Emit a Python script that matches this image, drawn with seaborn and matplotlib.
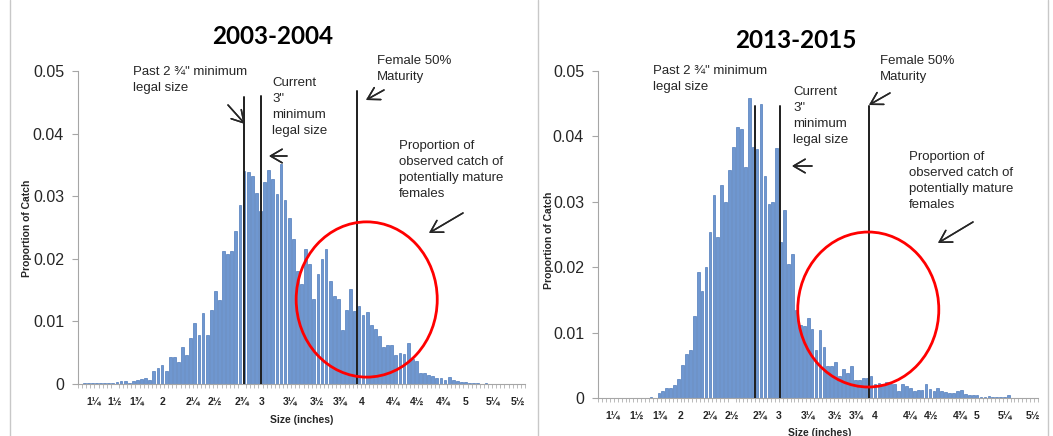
import matplotlib.pyplot as plt
import numpy as np
import pandas as pd
import seaborn as sns
from matplotlib.lines import Line2D
from matplotlib.patches import Ellipse

# proportion of catch per size bin (one bar per bin)
catch_2003 = [
    0.0000, 0.0001, 0.0001, 0.0001, 0.0001, 0.0001, 0.0002, 0.0001, 0.0002, 0.0003,
    0.0004, 0.0004, 0.0002, 0.0005, 0.0007, 0.0008, 0.0009, 0.0007,
    0.0020, 0.0025, 0.0030, 0.0020, 0.0043, 0.0043, 0.0035, 0.0059, 0.0047, 0.0074,
    0.0098, 0.0079, 0.0113, 0.0079, 0.0119, 0.0148, 0.0134, 0.0212,
    0.0208, 0.0213, 0.0245, 0.0286,
    0.0340, 0.0338, 0.0333, 0.0305, 0.0276, 0.0323, 0.0342, 0.0327, 0.0304, 0.0351,
    0.0294, 0.0265, 0.0231, 0.0180, 0.0159, 0.0216, 0.0192, 0.0135, 0.0176, 0.0199,
    0.0215, 0.0164, 0.0140, 0.0135, 0.0087, 0.0118, 0.0151, 0.0117, 0.0124, 0.0111,
    0.0115, 0.0094,
    0.0088, 0.0076, 0.0059, 0.0062, 0.0063, 0.0046, 0.0050, 0.0048, 0.0065, 0.0040,
    0.0036, 0.0017, 0.0018, 0.0014, 0.0012, 0.0010, 0.0009, 0.0006, 0.0011, 0.0006,
    0.0004, 0.0003, 0.0003, 0.0001, 0.0002,
    0.0001, 0.0000, 0.0001, 0.0000, 0.0000, 0.0000, 0.0000, 0.0000, 0.0000, 0.0000,
    0.0000, 0.0000,
]
catch_2013 = [
    0.0000, 0.0000, 0.0000, 0.0000, 0.0000, 0.0000, 0.0000, 0.0000, 0.0000, 0.0000,
    0.0000, 0.0000, 0.0000, 0.0001, 0.0000,
    0.0007, 0.0010, 0.0016, 0.0016, 0.0020, 0.0029, 0.0050, 0.0068, 0.0074, 0.0126,
    0.0192, 0.0164, 0.0200, 0.0254, 0.0311, 0.0246, 0.0326, 0.0299, 0.0348, 0.0384,
    0.0414, 0.0411, 0.0353, 0.0459, 0.0384, 0.0380, 0.0449, 0.0339, 0.0296, 0.0299,
    0.0383, 0.0238, 0.0287, 0.0205,
    0.0220, 0.0134, 0.0112, 0.0110, 0.0123, 0.0105, 0.0073, 0.0104, 0.0078, 0.0049,
    0.0049, 0.0055, 0.0034, 0.0045, 0.0038, 0.0049, 0.0028, 0.0027, 0.0030, 0.0031,
    0.0034, 0.0021, 0.0023, 0.0021, 0.0025, 0.0022, 0.0022, 0.0011, 0.0021, 0.0018,
    0.0015, 0.0011, 0.0012, 0.0012, 0.0021, 0.0014, 0.0011, 0.0015, 0.0011, 0.0009,
    0.0007, 0.0008, 0.0011, 0.0012, 0.0006, 0.0005, 0.0004, 0.0004, 0.0002, 0.0002,
    0.0003, 0.0002, 0.0002, 0.0002, 0.0002, 0.0004,
    0.0000, 0.0000, 0.0000, 0.0000, 0.0000, 0.0000, 0.0000,
]

size_labels = ["1¼", "1½", "1¾", "2", "2¼", "2½", "2¾", "3", "3¼", "3½", "3¾",
               "4", "4¼", "4½", "4¾", "5", "5¼", "5½"]
# bin index where each size label sits
label_bins_2003 = [3.2, 8.5, 13.9, 20.2, 27.6, 32.9, 39.5, 44.4, 51.2, 57.8, 63.4,
                   68.8, 76.3, 82.2, 88.5, 93.9, 100.7, 106.8]
label_bins_2013 = [3.3, 9.3, 15.1, 20.4, 28.0, 33.5, 40.7, 45.4, 53.0, 59.8, 65.3,
                   70.0, 78.9, 84.4, 91.6, 95.8, 103.0, 110.3]

# reference lines: past 2 3/4", current 3", female 50% maturity (bin index, top)
ref_bins_2003 = [40.0, 44.1, 67.6]
ref_tops_2003 = [0.0459, 0.0460, 0.0468]
ref_bins_2013 = [39.5, 45.9, 68.5]
ref_tops_2013 = [0.0447, 0.0447, 0.0447]

W, H = 1053, 436
BAR = "#6f97d0"
EDGE = "#4473b6"
TXT = "#262626"

sns.set_style("ticks")
plt.rcParams["font.family"] = ["Liberation Sans", "DejaVu Sans"]

fig = plt.figure(figsize=(W / 100, H / 100), dpi=100)


def px_ax(x0, y_top, x1, y_bot):
    return fig.add_axes([x0 / W, (H - y_bot) / H, (x1 - x0) / W, (y_bot - y_top) / H])


def ftext(x, y, s, **kw):
    fig.text(x / W, (H - y) / H, s, **kw)


def farrow(x0, y0, x1, y1):
    fig.add_artist(plt.annotate(
        "", xy=(x1 / W, (H - y1) / H), xytext=(x0 / W, (H - y0) / H),
        xycoords="figure fraction", textcoords="figure fraction",
        arrowprops=dict(arrowstyle="->,head_length=0.6,head_width=0.35",
                        lw=1.1, color=TXT, mutation_scale=14,
                        shrinkA=0, shrinkB=0)))


def draw_panel(ax, values, label_bins, ref_bins, ref_tops, circle):
    df = pd.DataFrame({"bin": np.arange(len(values)), "prop": values})
    sns.barplot(data=df, x="bin", y="prop", ax=ax, color=BAR, saturation=1,
                width=0.68, edgecolor=EDGE, linewidth=0.45)
    n = len(values)
    ax.set_xlim(-0.5, n - 0.5)
    ax.set_ylim(0, 0.05)
    for xb, top in zip(ref_bins, ref_tops):
        ax.plot([xb, xb], [0, top], color="#1e1e1e", lw=1.4, zorder=5)
    ax.add_patch(Ellipse(circle[:2], circle[2], circle[3], fill=False,
                         ec="#ff0000", lw=2.0, zorder=6, clip_on=False))
    ax.set_yticks([0, 0.01, 0.02, 0.03, 0.04, 0.05])
    ax.set_yticklabels(["0", "0.01", "0.02", "0.03", "0.04", "0.05"])
    ax.tick_params(axis="y", labelsize=11.5, colors="#a6a6a6", labelcolor=TXT,
                   length=4, width=0.8, pad=6)
    ax.set_xticks(label_bins)
    ax.set_xticklabels(size_labels, fontsize=7.5, fontweight="bold", color=TXT)
    ax.tick_params(axis="x", length=0, pad=9)
    ax.set_xticks(np.arange(n + 1) - 0.5, minor=True)
    ax.tick_params(axis="x", which="minor", length=3, width=0.6, color="#b0b0b0")
    for side in ["top", "right"]:
        ax.spines[side].set_visible(False)
    for side in ["left", "bottom"]:
        ax.spines[side].set_color("#a6a6a6")
        ax.spines[side].set_linewidth(0.8)
    ax.set_xlabel("")
    ax.set_ylabel("")


ax1 = px_ax(78, 71, 525, 384)
draw_panel(ax1, catch_2003, label_bins_2003, ref_bins_2003, ref_tops_2003,
           (69.9, 0.0135, 34.4, 0.0248))
ax2 = px_ax(598, 71, 1038, 398)
draw_panel(ax2, catch_2013, label_bins_2013, ref_bins_2013, ref_tops_2013,
           (68.3, 0.01353, 35.9, 0.0237))

# panel frames
for xf in [10, 538, 1048]:
    fig.add_artist(Line2D([xf / W, xf / W], [0, 1], color="#c8c8c8", lw=1.0))

# titles and axis labels
title_kw = dict(fontsize=17.5, fontweight="bold", family=["Lato", "DejaVu Sans"],
                ha="center", va="center", color="black")
ftext(273, 37, "2003-2004", **title_kw)
ftext(796, 40, "2013-2015", **title_kw)
lab_kw = dict(fontsize=7.5, fontweight="bold", color=TXT, ha="center", va="center")
ftext(27, 228, "Proportion of Catch", rotation=90, **lab_kw)
ftext(549, 240, "Proportion of Catch", rotation=90, **lab_kw)
ftext(302, 420, "Size (inches)", **lab_kw)
ftext(820, 433, "Size (inches)", **lab_kw)

# annotations
note_kw = dict(fontsize=9.5, color=TXT, ha="left", va="top", linespacing=1.45)
past = "Past 2 ¾\" minimum\nlegal size"
current = "Current\n3\"\nminimum\nlegal size"
female = "Female 50%\nMaturity"
mature = "Proportion of\nobserved catch of\npotentially mature\nfemales"

ftext(133, 66, past, **note_kw)
ftext(272, 77, current, **note_kw)
ftext(377, 55, female, **note_kw)
ftext(399, 140, mature, **note_kw)
farrow(228, 105, 245, 124)
farrow(287, 156, 269, 156)
farrow(384, 90, 366, 100)
farrow(463, 213, 429, 233)

ftext(653, 65, past, **note_kw)
ftext(793, 86, current, **note_kw)
ftext(880, 55, female, **note_kw)
ftext(909, 151, mature, **note_kw)
farrow(812, 166, 792, 166)
farrow(890, 93, 869, 105)
farrow(973, 222, 938, 243)

fig.savefig("out.png", dpi=100)
